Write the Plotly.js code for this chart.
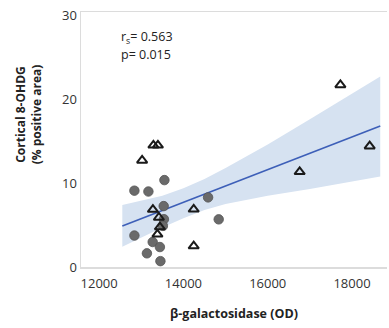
<!DOCTYPE html>
<html><head><meta charset="utf-8">
<script src="https://cdn.plot.ly/plotly-3.0.1.min.js"></script>
<style>html,body{margin:0;padding:0;background:#fff;}#c{width:389px;height:328px;}</style>
</head><body><div id="c"></div>
<script>
// Circles (filled gray)
const circX = [13549, 12837, 13169, 13532, 13537, 13513, 12837, 13271, 13442, 13134, 13454, 14585, 14837];
const circY = [10.36, 9.1, 9.0, 7.26, 5.7, 4.9, 3.75, 2.98, 2.38, 1.63, 0.7, 8.3, 5.68];
// Triangles (open)
const triX = [13288, 13395, 13020, 13276, 13418, 13442, 13383, 14244, 14244, 17724, 18419, 16758];
const triY = [14.5, 14.5, 12.7, 6.85, 5.9, 4.76, 3.9, 6.87, 2.5, 21.7, 14.4, 11.35];
// Regression line and confidence band
const fitX = [12550, 18670];
const fitY = [4.89, 16.82];
const bandX = [12550, 13000, 13500, 14000, 14500, 15000, 16000, 17000, 18000, 18670];
const bandLo = [2.4, 3.5, 4.7, 5.8, 6.8, 7.5, 8.5, 9.3, 10.2, 10.8];
const bandHi = [7.4, 7.9, 8.5, 9.4, 10.5, 11.8, 14.6, 17.6, 20.6, 22.7];
const xTicks = [12000, 14000, 16000, 18000];
const yTicks = [0, 10, 20, 30];

const font = "Open Sans, Liberation Sans, sans-serif";
const traces = [
  {x: bandX, y: bandLo, mode: 'lines', line: {width: 0}, hoverinfo: 'skip', showlegend: false},
  {x: bandX, y: bandHi, mode: 'lines', line: {width: 0}, fill: 'tonexty', fillcolor: 'rgb(214,226,241)', hoverinfo: 'skip', showlegend: false},
  {x: fitX, y: fitY, mode: 'lines', line: {color: '#3d5fb8', width: 1.6}, showlegend: false},
  {x: circX, y: circY, mode: 'markers', marker: {symbol: 'circle', size: 9.5, color: '#6a6a6a', line: {color: '#555', width: 0.8}}, showlegend: false},
  {x: triX, y: triY, mode: 'markers', marker: {symbol: 'triangle-up-open', size: 9, color: '#1a1a1a', line: {width: 2}}, showlegend: false}
];
const layout = {
  width: 389, height: 328,
  margin: {l: 81, r: 2, t: 12, b: 61},
  paper_bgcolor: '#fff', plot_bgcolor: '#fff',
  font: {family: font, size: 13, color: '#333'},
  xaxis: {range: [11570, 18830], tickvals: xTicks, ticktext: xTicks.map(String), showgrid: false, zeroline: false,
          showline: true, mirror: true, linecolor: '#dcdcdc', linewidth: 1.5, ticks: '',
          tickfont: {size: 13, color: '#333'}, ticklabelstandoff: 4,
          title: {text: '<b>β-galactosidase (OD)</b>', font: {size: 12.5, color: '#222'}, standoff: 18}},
  yaxis: {range: [0, 30.4], tickvals: yTicks, ticktext: yTicks.map(String), showgrid: false, zeroline: false,
          showline: true, linecolor: '#dcdcdc', linewidth: 1.5, ticks: '',
          tickfont: {size: 13, color: '#333'}},
  annotations: [
    {xref: 'paper', yref: 'paper', x: -0.172, y: 0.6, xanchor: 'center', yanchor: 'middle', textangle: -90,
     text: '<b>Cortical 8-OHDG<br>(% positive area)</b>', showarrow: false, font: {size: 12, color: '#222'}},
    {xref: 'x', yref: 'y', x: 12480, y: 27.4, xanchor: 'left', yanchor: 'middle', showarrow: false,
     text: 'r<sub>s</sub>= 0.563', font: {size: 12.5, color: '#222'}},
    {xref: 'x', yref: 'y', x: 12480, y: 25.3, xanchor: 'left', yanchor: 'middle', showarrow: false,
     text: 'p= 0.015', font: {size: 12.5, color: '#222'}}
  ]
};
Plotly.newPlot('c', traces, layout, {staticPlot: true, displayModeBar: false});
</script></body></html>
